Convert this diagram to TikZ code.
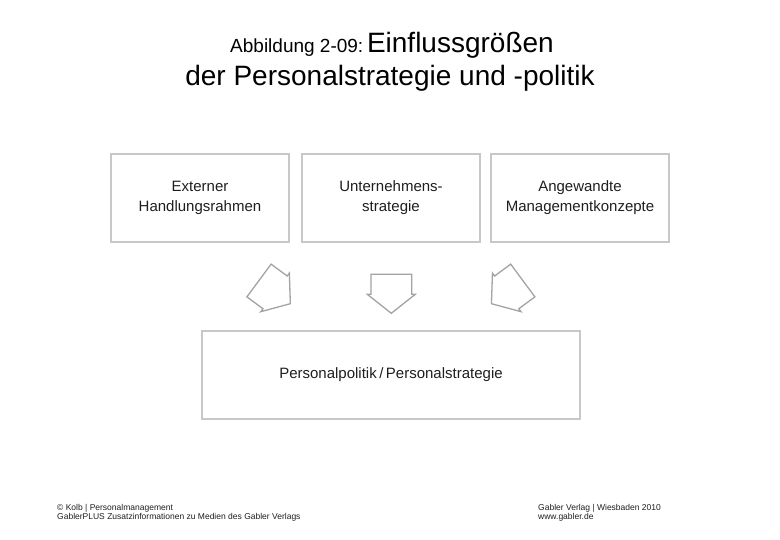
\documentclass[tikz,border=0pt]{standalone}
\usepackage{fontspec}
\setmainfont{Liberation Sans}
\definecolor{boxgray}{HTML}{C8C8C8}
\definecolor{arrowgray}{HTML}{A3A3A3}
\definecolor{textdark}{HTML}{1E1E1E}

\begin{document}
\begin{tikzpicture}[x=1pt, y=-1pt]
            \tikzset{
                factor/.style={draw=boxgray, line width=1.2pt, minimum width=178pt, minimum height=88pt, align=center, text=textdark, font=\fontsize{15}{20}\selectfont},
                footer/.style={anchor=base west, inner sep=0pt, text=textdark, font=\fontsize{8.5}{9}\selectfont},
                blockarrow/.pic={
                    \draw[draw=arrowgray, line width=1.3pt, line join=miter, fill=white]
                        (-20.35, 0) -- (20.35, 0) -- (20.35, 20) -- (24, 20) -- (0, 39) -- (-24, 20) -- (-20.35, 20) -- cycle;
                }
            };
            \useasboundingbox (0, 0) rectangle (780, 540);
            \node[anchor=base, inner sep=0pt] (title1) at (392, 53) {{\fontsize{19}{22}\selectfont Abbildung 2-09:} {\fontsize{28}{32}\selectfont Einflussgrößen}};
            \node[anchor=base, inner sep=0pt, font=\fontsize{28}{32}\selectfont] (title2) at (390, 86) {der Personalstrategie und -politik};
            \node[factor] (extern) at (200, 198) {Externer\\Handlungsrahmen};
            \node[factor] (strategie) at (391, 198) {Unternehmens-\\strategie};
            \node[factor] (konzepte) at (580, 198) {Angewandte\\Managementkonzepte};
            \node[factor, minimum width=378pt] (politik) at (391, 375) {Personalpolitik\,/\,Personalstrategie};
            \coordinate (a1) at (259, 280.5);
            \coordinate (a2) at (391.3, 274.3);
            \coordinate (a3) at (522.8, 280.5);
            \pic[rotate=53.5] at (a1) {blockarrow};
            \pic at (a2) {blockarrow};
            \pic[rotate=-53.5] at (a3) {blockarrow};
            \node[footer] (copy) at (57, 510) {© Kolb | Personalmanagement};
            \node[footer] (plus) at (57, 519.5) {GablerPLUS Zusatzinformationen zu Medien des Gabler Verlags};
            \node[footer] (verlag) at (538, 510) {Gabler Verlag | Wiesbaden 2010};
            \node[footer] (web) at (538, 519.5) {www.gabler.de};
        \end{tikzpicture}
\end{document}
